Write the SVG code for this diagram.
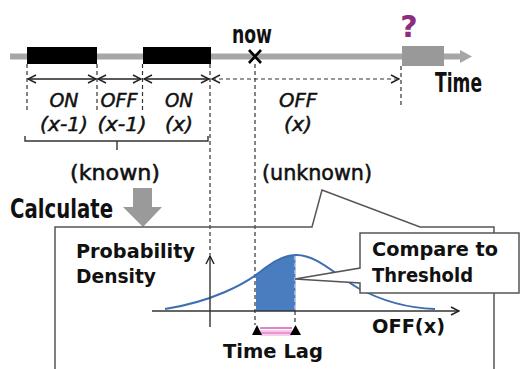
<svg xmlns="http://www.w3.org/2000/svg" width="524" height="369" viewBox="0 0 524 369">
  <defs>
    <style>
      .lbl { font-family: "DejaVu Sans Condensed", "Liberation Sans", sans-serif; font-weight: bold; fill: #111; }
      .plain { font-family: "DejaVu Sans Condensed", "Liberation Sans", sans-serif; font-weight: normal; fill: #111; stroke: #111; stroke-width: 0.5; }
      .wide { font-family: "DejaVu Sans", "Liberation Sans", sans-serif; font-weight: bold; fill: #111; }
      .ital { font-family: "DejaVu Sans Condensed", "Liberation Sans", sans-serif; font-style: italic; fill: #111; stroke: #111; stroke-width: 0.45; font-size: 20px; }
      .dash { stroke: #333; stroke-width: 1.2; stroke-dasharray: 4 3; fill: none; }
      .span { stroke: #222; stroke-width: 1.3; fill: none; }
      .frame { stroke: #555; stroke-width: 1.5; fill: none; }
    </style>
    <marker id="chev" viewBox="0 0 10 10" refX="9" refY="5" markerWidth="10" markerHeight="10" markerUnits="userSpaceOnUse" orient="auto-start-reverse">
      <path d="M1,1 L9,5 L1,9" fill="none" stroke="#222" stroke-width="1.4"/>
    </marker>
    <clipPath id="lagClip">
      <rect x="256" y="240" width="39.5" height="71"/>
    </clipPath>
  </defs>

  <!-- time axis -->
  <g id="timeline">
    <line x1="10" y1="56.5" x2="462" y2="56.5" stroke="#a6a6a6" stroke-width="6"/>
    <polygon points="460,50 472,56.5 460,63" fill="#a6a6a6"/>
    <rect x="27" y="47" width="70" height="17" fill="#000"/>
    <rect x="143" y="47" width="68" height="17" fill="#000"/>
    <rect x="402" y="46" width="42" height="20" fill="#999"/>
    <path d="M249,50 L261,63 M261,50 L249,63" stroke="#000" stroke-width="2.6"/>
    <text x="252" y="43" class="lbl" font-size="24" text-anchor="middle" textLength="40" lengthAdjust="spacingAndGlyphs">now</text>
    <text x="409" y="37" font-family="DejaVu Sans, sans-serif" font-weight="bold" font-size="30" fill="#8e2c7e" text-anchor="middle">?</text>
    <text x="435" y="92" class="lbl" font-size="26" textLength="47" lengthAdjust="spacingAndGlyphs">Time</text>
  </g>

  <!-- connectors: spans, guides, callout frame -->
  <g id="connectors">
    <line class="dash" x1="27" y1="64" x2="27" y2="112"/>
    <line class="dash" x1="97" y1="64" x2="97" y2="112"/>
    <line class="dash" x1="142.5" y1="64" x2="142.5" y2="112"/>
    <line class="dash" x1="210" y1="64" x2="210" y2="255"/>
    <line class="dash" x1="255" y1="64" x2="255" y2="325"/>
    <line class="dash" x1="401" y1="66" x2="401" y2="105"/>

    <line class="span" x1="28" y1="79" x2="96" y2="79" marker-start="url(#chev)" marker-end="url(#chev)"/>
    <line class="span" x1="98" y1="79" x2="141" y2="79" marker-start="url(#chev)" marker-end="url(#chev)"/>
    <line class="span" x1="144" y1="79" x2="209" y2="79" marker-start="url(#chev)" marker-end="url(#chev)"/>
    <line class="dash" x1="212" y1="79" x2="399" y2="79" marker-start="url(#chev)" marker-end="url(#chev)"/>

    <!-- brace over the known intervals -->
    <path d="M25,136 V141 H208 V136 M117,141 V150" stroke="#333" stroke-width="1.4" fill="none"/>

    <!-- block arrow -->
    <polygon points="133,188 152,188 152,207 162,207 143,227 123,207 133,207" fill="#9a9a9a"/>

    <!-- chart frame with pointer toward the unknown label -->
    <path class="frame" d="M55,369 V227 H312 L322,190 L420,227 H494 V369"/>
  </g>

  <g id="labels">
    <text x="64" y="107" class="ital" text-anchor="middle" textLength="29" lengthAdjust="spacingAndGlyphs">ON</text>
    <text x="64" y="131" class="ital" text-anchor="middle" textLength="48" lengthAdjust="spacingAndGlyphs">(x-1)</text>
    <text x="119" y="107" class="ital" text-anchor="middle" textLength="37" lengthAdjust="spacingAndGlyphs">OFF</text>
    <text x="122" y="131" class="ital" text-anchor="middle" textLength="49" lengthAdjust="spacingAndGlyphs">(x-1)</text>
    <text x="179" y="107" class="ital" text-anchor="middle" textLength="28" lengthAdjust="spacingAndGlyphs">ON</text>
    <text x="179" y="131" class="ital" text-anchor="middle" textLength="28" lengthAdjust="spacingAndGlyphs">(x)</text>
    <text x="298" y="107" class="ital" text-anchor="middle" textLength="38" lengthAdjust="spacingAndGlyphs">OFF</text>
    <text x="298" y="131" class="ital" text-anchor="middle" textLength="28" lengthAdjust="spacingAndGlyphs">(x)</text>
    <text x="70" y="180" class="plain" font-size="21" textLength="90" lengthAdjust="spacingAndGlyphs">(known)</text>
    <text x="262" y="180" class="plain" font-size="21" textLength="110" lengthAdjust="spacingAndGlyphs">(unknown)</text>
    <text x="10" y="218" class="lbl" font-size="27" textLength="103" lengthAdjust="spacingAndGlyphs">Calculate</text>
  </g>

  <!-- probability density chart -->
  <g id="chart">
    <text x="76" y="258" class="wide" font-size="19" textLength="119" lengthAdjust="spacingAndGlyphs">Probability</text>
    <text x="76" y="283" class="wide" font-size="19" textLength="80" lengthAdjust="spacingAndGlyphs">Density</text>

    <path d="M165,309 C210,302 245,285 265,268 C278,258 288,255 296,255 C318,255 335,275 358,288 C380,300 405,308 435,309 L435,311 L165,311 Z" fill="#4a7cc0" clip-path="url(#lagClip)"/>
    <path d="M165,309 C210,302 245,285 265,268 C278,258 288,255 296,255 C318,255 335,275 358,288 C380,300 405,308 435,309" fill="none" stroke="#3d6eb0" stroke-width="2"/>
    <line x1="295" y1="256" x2="295" y2="311" stroke="#c8d6ea" stroke-width="1.2" stroke-dasharray="4 3"/>
    <line class="dash" x1="295" y1="311" x2="295" y2="325"/>

    <line x1="152" y1="311" x2="459" y2="311" stroke="#333" stroke-width="1.4" marker-end="url(#chev)"/>
    <line x1="210" y1="327" x2="210" y2="256" stroke="#333" stroke-width="1.4" marker-end="url(#chev)"/>

    <text x="372" y="333" class="wide" font-size="19" textLength="73" lengthAdjust="spacingAndGlyphs">OFF(x)</text>
  </g>

  <!-- time lag marker -->
  <g id="time-lag">
    <line x1="260" y1="328" x2="292" y2="328" stroke="#d24fb4" stroke-width="1.4"/>
    <line x1="260" y1="331" x2="292" y2="331" stroke="#f2b0e2" stroke-width="1.4"/>
    <line x1="260" y1="333" x2="292" y2="333" stroke="#d24fb4" stroke-width="1.2"/>
    <line x1="260" y1="335" x2="292" y2="335" stroke="#f2b0e2" stroke-width="1.2"/>
    <polygon points="257,325 262,335 252,335" fill="#000"/>
    <polygon points="295.5,325 301,335 290,335" fill="#000"/>
    <text x="223" y="358" class="wide" font-size="20" textLength="100" lengthAdjust="spacingAndGlyphs">Time Lag</text>
  </g>

  <!-- callout to the threshold -->
  <g id="compare">
    <path d="M360,233 H519 V293 H360 V283 L295,279 L360,268 Z" fill="#fff" stroke="#555" stroke-width="1.5"/>
    <text x="372" y="256" class="wide" font-size="19" textLength="126" lengthAdjust="spacingAndGlyphs">Compare to</text>
    <text x="372" y="282" class="wide" font-size="19" textLength="101" lengthAdjust="spacingAndGlyphs">Threshold</text>
  </g>
</svg>
